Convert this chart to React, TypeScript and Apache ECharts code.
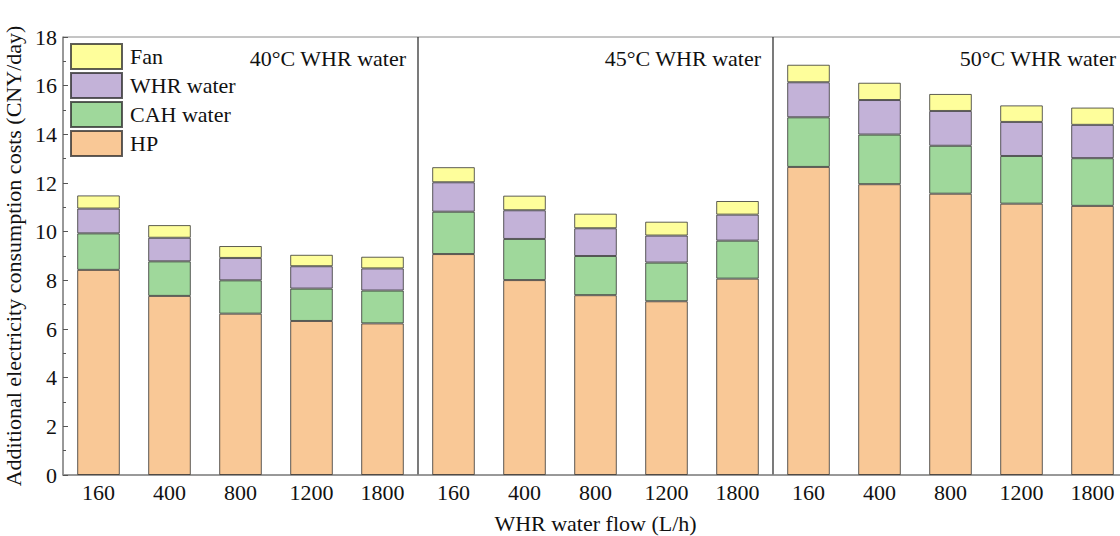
import { useEffect, useRef } from "react";
import * as echarts from "echarts";

const flows = ["160", "400", "800", "1200", "1800"];
const groupLabels = ["40°C WHR water", "45°C WHR water", "50°C WHR water"];
const categories = [...flows, ...flows, ...flows];
const seriesNames = ["HP", "CAH water", "WHR water", "Fan"];
const legendOrder = ["Fan", "WHR water", "CAH water", "HP"];

const hp = [8.43, 7.36, 6.63, 6.33, 6.23, 9.08, 8.01, 7.39, 7.14, 8.07, 12.66, 11.95, 11.56, 11.15, 11.06];
const cah = [1.5, 1.42, 1.37, 1.33, 1.35, 1.74, 1.69, 1.61, 1.59, 1.56, 2.04, 2.04, 1.97, 1.96, 1.96];
const whr = [1.02, 0.97, 0.92, 0.92, 0.91, 1.21, 1.18, 1.14, 1.11, 1.07, 1.44, 1.42, 1.43, 1.4, 1.37];
const fan = [0.54, 0.52, 0.49, 0.47, 0.48, 0.62, 0.6, 0.6, 0.57, 0.56, 0.72, 0.71, 0.7, 0.68, 0.71];
const seriesValues = [hp, cah, whr, fan];
const colors = ["#F9C896", "#9FD89B", "#C3B2D8", "#FEFE9B"];

const FONT = "Liberation Serif";

export default function App() {
  const ref = useRef<HTMLDivElement>(null);
  useEffect(() => {
    document.body.style.margin = "0";
    const chart = echarts.init(ref.current!, undefined, { renderer: "svg" });
    chart.setOption({
      animation: false,
      textStyle: { fontFamily: FONT },
      grid: {
        left: 63,
        right: -8,
        top: 37,
        bottom: 61,
        show: true,
        borderColor: "#8a8a8a",
        borderWidth: 1,
        outerBoundsMode: "none",
        containLabel: false,
      },
      legend: {
        data: legendOrder,
        orient: "vertical",
        left: 70,
        top: 43,
        icon: "rect",
        itemWidth: 51,
        itemHeight: 25,
        itemGap: 2,
        padding: 0,
        textStyle: { fontFamily: FONT, fontSize: 22, lineHeight: 22, color: "#111", padding: [0, 0, 0, 3] },
      },
      xAxis: [
        {
          type: "category",
          data: categories,
          name: "WHR water flow (L/h)",
          nameLocation: "middle",
          nameGap: 37,
          nameTextStyle: { fontFamily: FONT, fontSize: 22, color: "#111" },
          axisLine: { lineStyle: { color: "#8a8a8a", width: 1.5 } },
          axisTick: { alignWithLabel: true, inside: true, length: 5, lineStyle: { color: "#444" } },
          axisLabel: { fontFamily: FONT, fontSize: 22, color: "#111", margin: 6, interval: 0 },
        },
        {
          type: "category",
          data: categories,
          position: "bottom",
          axisLine: { show: false },
          axisTick: { inside: true, length: 3, lineStyle: { color: "#444" } },
          axisLabel: { show: false },
        },
      ],
      yAxis: {
        type: "value",
        min: 0,
        max: 18,
        interval: 2,
        name: "Additional electricity consumption costs (CNY/day)",
        nameLocation: "middle",
        nameGap: 34,
        nameTextStyle: { fontFamily: FONT, fontSize: 22, color: "#111" },
        axisLine: { show: true, lineStyle: { color: "#8a8a8a", width: 1.5 } },
        axisTick: { show: true, inside: true, length: 5, lineStyle: { color: "#555" } },
        minorTick: { show: true, splitNumber: 2, length: 3, lineStyle: { color: "#555" } },
        splitLine: { show: false },
        axisLabel: { fontFamily: FONT, fontSize: 22, color: "#111", margin: 6 },
      },
      series: seriesNames.map((name, i) => ({
        name,
        type: "bar",
        stack: "total",
        barWidth: "60%",
        data: seriesValues[i],
        itemStyle: { color: colors[i], borderColor: "rgba(40,40,40,0.75)", borderWidth: 1 },
      })),
    });

    const px = (i: number) => chart.convertToPixel({ xAxisIndex: 0 }, i) as number;
    const yTop = chart.convertToPixel({ yAxisIndex: 0 }, 18) as number;
    const yBot = chart.convertToPixel({ yAxisIndex: 0 }, 0) as number;
    const yText = chart.convertToPixel({ yAxisIndex: 0 }, 17.1) as number;
    const step = px(1) - px(0);
    const graphic: any[] = [];
    groupLabels.forEach((label, g) => {
      const right = px(g * 5 + 4) + step / 2;
      if (g < groupLabels.length - 1) {
        graphic.push({
          type: "line",
          shape: { x1: right, y1: yTop, x2: right, y2: yBot },
          style: { stroke: "#333", lineWidth: 1.3 },
          silent: true,
        });
      }
      graphic.push({
        type: "text",
        x: right - 12,
        y: yText,
        style: { text: label, fontFamily: FONT, fontSize: 22, fill: "#111", align: "right", verticalAlign: "middle" },
        silent: true,
      });
    });
    chart.setOption({ graphic });
    return () => chart.dispose();
  }, []);
  return <div ref={ref} style={{ width: 1120, height: 536 }} />;
}
